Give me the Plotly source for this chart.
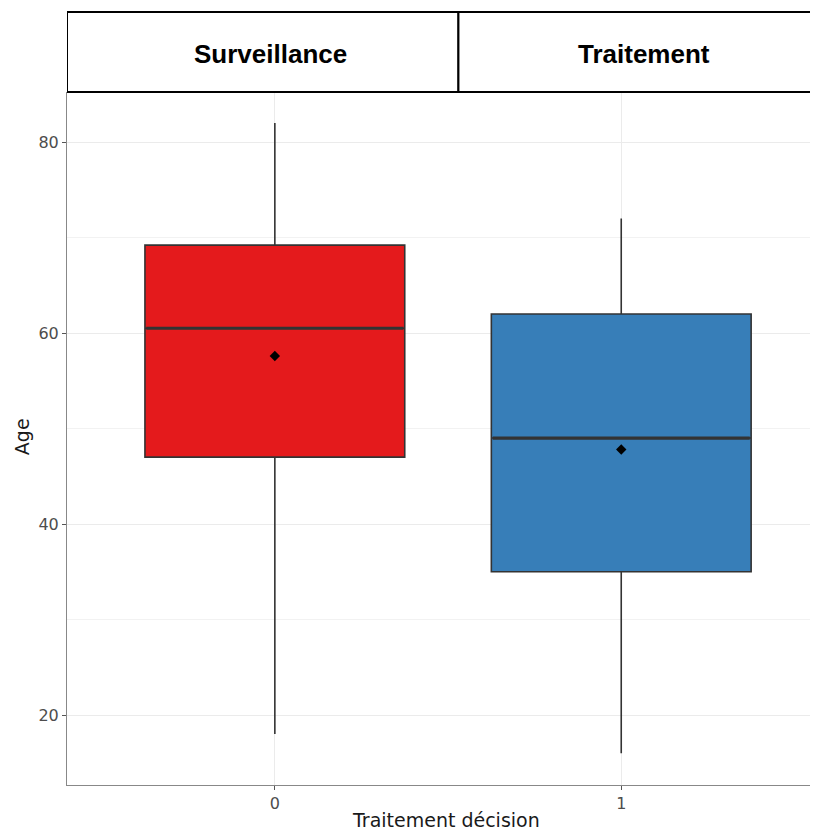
import plotly.graph_objects as go

# ---- data ----
groups = [0, 1]
tick_labels = ["0", "1"]
strip_labels = ["Surveillance", "Traitement"]
lower_whisker = [18.0, 16.0]
q1 = [47.0, 35.0]
median = [60.5, 49.0]
q3 = [69.2, 62.0]
upper_whisker = [82.0, 72.0]
means = [57.6, 47.8]
fill_colors = ["#E41A1C", "#377EB8"]

BOX_W = 0.75
fig = go.Figure()

for i, g in enumerate(groups):
    fig.add_trace(go.Box(
        x=[g], q1=[q1[i]], median=[median[i]], q3=[q3[i]],
        lowerfence=[lower_whisker[i]], upperfence=[upper_whisker[i]],
        width=BOX_W, whiskerwidth=0, fillcolor=fill_colors[i],
        line=dict(color="#333333", width=1.6), boxpoints=False,
        hoverinfo="skip", showlegend=False,
    ))
    # thicker median line (ggplot fatten)
    fig.add_trace(go.Scatter(
        x=[g - BOX_W / 2 + 0.004, g + BOX_W / 2 - 0.004], y=[median[i], median[i]],
        mode="lines", line=dict(color="#333333", width=3.2),
        hoverinfo="skip", showlegend=False,
    ))

fig.add_trace(go.Scatter(
    x=groups, y=means, mode="markers",
    marker=dict(symbol="diamond", size=8, color="black"),
    hoverinfo="skip", showlegend=False,
))

# strip boxes (facet header)
x_left, x_div, x_right = -0.6, 0.53, 1.6
strip_y0, strip_y1 = 1.0, 1.1154
for (a, b), lab, px in zip([(x_left, x_div), (x_div, x_right)], strip_labels, [0.2716, 0.768]):
    fig.add_shape(type="rect", xref="x", yref="paper", x0=a, x1=b, y0=strip_y0, y1=strip_y1,
                  line=dict(color="black", width=2), fillcolor="white", layer="above")
    fig.add_annotation(x=px, y=1.0548, xref="paper", yref="paper",
                       xanchor="center", yanchor="middle",
                       text="<b>%s</b>" % lab, showarrow=False,
                       font=dict(family="Liberation Sans, Arial", size=26, color="black"))

# axis titles
fig.add_annotation(x=0.5047, y=-0.0505, xref="paper", yref="paper",
                   xanchor="center", yanchor="middle", showarrow=False,
                   text="Traitement décision",
                   font=dict(family="DejaVu Sans", size=19, color="#1a1a1a"))
fig.add_annotation(x=-0.0599, y=0.502, xref="paper", yref="paper",
                   xanchor="center", yanchor="middle", showarrow=False, textangle=-90,
                   text="Age",
                   font=dict(family="DejaVu Sans", size=19, color="#1a1a1a"))

fig.update_layout(
    width=810, height=822,
    margin=dict(l=59, r=0, t=84, b=45),
    plot_bgcolor="white", paper_bgcolor="white",
    font=dict(family="DejaVu Sans", color="#4d4d4d"),
    xaxis=dict(
        range=[-0.6, 1.568], tickvals=groups, ticktext=tick_labels,
        showgrid=True, gridcolor="#ebebeb", gridwidth=1.2, zeroline=False,
        showline=True, linecolor="#888888", linewidth=1,
        ticks="outside", ticklen=4, tickcolor="#555555", tickwidth=1,
        tickfont=dict(size=16, color="#4d4d4d"),
    ),
    yaxis=dict(
        range=[12.67, 85.24], tickvals=[20, 40, 60, 80],
        showgrid=True, gridcolor="#ebebeb", gridwidth=1.2, zeroline=False,
        minor=dict(tickvals=[30, 50, 70], showgrid=True, gridcolor="#f2f2f2", gridwidth=0.8),
        showline=True, linecolor="#888888", linewidth=1,
        ticks="outside", ticklen=4, tickcolor="#555555", tickwidth=1,
        tickfont=dict(size=16, color="#4d4d4d"),
    ),
)

fig.write_html("out.html")
